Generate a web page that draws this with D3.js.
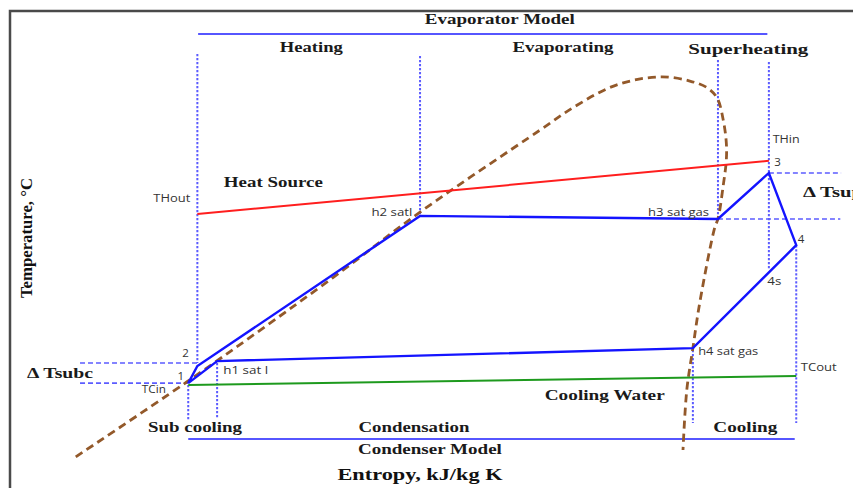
<!DOCTYPE html>
<html>
<head>
<meta charset="utf-8">
<script src="https://cdn.jsdelivr.net/npm/d3@7"></script>
<style>
  html, body { margin: 0; padding: 0; background: #fff; }
  svg { display: block; }
</style>
</head>
<body>
<div id="chart"></div>
<script>
// ---------------- DATA (entropy s, temperature T in arbitrary chart units) ----------------
// Refrigerant cycle: 1 -> 2 -> h2 sat l -> h3 sat gas -> 3 -> 4 -> h4 sat gas -> h1 sat l -> 1
const cycleNames = ["1", "2", "h2", "h3", "3", "4", "h4", "h1"];
const cycleS     = [14.9, 16.1, 45.4, 84.6, 91.3, 94.9, 81.3, 18.7];
const cycleT     = [17.6, 22.1, 61.6, 60.8, 72.9, 53.9, 26.8, 23.4];

// Heat source (red) and cooling water (green) lines
const heatS = [16.1, 91.3];
const heatT = [62.1, 76.1];
const coolS = [14.9, 94.9];
const coolT = [17.1, 19.5];

// Saturation dome (brown dashed)
const domeS = [0.1, 14.7, 33.9, 45.4, 61.2, 66.1, 71.3, 77.0, 80.9, 83.2, 84.5, 85.3, 85.7, 85.7, 85.3, 84.6, 84.2, 82.2, 81.3, 80.5, 80.0];
const domeT = [-1.8, 17.9, 45.3, 62.6, 84.2, 90.8, 96.1, 98.2, 97.1, 95.3, 92.6, 86.8, 80.8, 76.3, 69.7, 60.8, 58.7, 38.7, 26.8, 15.8, 0.0];

// Vertical dotted guide lines: s, top T, bottom T
const vGuideS   = [16.1, 14.9, 18.7, 45.4, 84.6, 91.3, 81.3, 94.9];
const vGuideTop = [104.2, 17.1, 22.9, 103.7, 102.6, 102.1, 26.3, 53.9];
const vGuideBot = [22.9, 7.9, 8.4, 61.8, 60.8, 47.4, 7.1, 7.1];

// Horizontal dashed guide lines: T, start s, end s
const hGuideT  = [72.9, 60.8, 22.9, 17.6];
const hGuideS0 = [91.3, 84.6, 0.66, 0.66];
const hGuideS1 = [100.8, 100.7, 16.1, 14.9];

// Model brackets: label, s range, T level
const bracketNames = ["Evaporator Model", "Condenser Model"];
const bracketS0 = [16.2, 14.9];
const bracketS1 = [91.1, 94.7];
const bracketT  = [109.5, 2.9];

// Annotation texts
const headTexts  = ["Evaporator Model", "Heating", "Evaporating", "Superheating", "Heat Source", "Cooling Water",
                    "Sub cooling", "Condensation", "Cooling", "Condenser Model", "Δ Tsup", "Δ Tsubc"];
const headS      = [55.9, 31.1, 64.2, 88.6, 26.1, 69.7, 15.8, 44.6, 88.2, 46.7, 95.8, -6.3];
const headT      = [112.1, 104.7, 104.7, 104.2, 69.2, 13.2, 4.7, 4.7, 4.7, -1.1, 66.6, 19.0];
const headWidths = [150, 63, 101, 120, 99, 120, 94, 111, 64, 144, 60, 66];

const pointTexts = ["THout", "h2 satl", "h3 sat gas", "THin", "3", "4", "4s", "h4 sat gas", "TCout", "2", "1", "TCin", "h1 sat l"];
const pointS     = [10.3, 39.0, 75.4, 91.8, 92.0, 95.1, 91.1, 82.0, 95.5, 14.1, 13.5, 8.8, 19.5];
const pointT     = [65.3, 61.6, 61.6, 80.8, 74.7, 54.5, 43.4, 25.0, 20.8, 24.5, 18.4, 15.0, 19.9];
const pointWidths = [37, 41, 61, 27, 0, 0, 14, 60, 36, 0, 0, 24, 45];

// ---------------- CHART ----------------
const W = 853, H = 488;
const x = d3.scaleLinear().domain([0, 100]).range([75, 835]);
const y = d3.scaleLinear().domain([0, 100]).range([450, 70]);

const svg = d3.select("#chart").append("svg").attr("width", W).attr("height", H);
svg.append("rect").attr("width", W).attr("height", H).attr("fill", "#fff");

// frame (extends beyond the visible area on the right and bottom)
svg.append("rect").attr("x", 10).attr("y", 11).attr("width", 900).attr("height", 600)
  .attr("fill", "none").attr("stroke", "#4a4a4a").attr("stroke-width", 2.5);

const guideColor = "#5c5cff";

// vertical dotted guides
svg.append("g").selectAll("line").data(vGuideS).join("line")
  .attr("x1", d => x(d)).attr("x2", d => x(d))
  .attr("y1", (d, i) => y(vGuideTop[i])).attr("y2", (d, i) => y(vGuideBot[i]))
  .attr("stroke", guideColor).attr("stroke-width", 2).attr("stroke-dasharray", "2.2,1.8");

// horizontal dashed guides
svg.append("g").selectAll("line").data(hGuideT).join("line")
  .attr("x1", (d, i) => x(hGuideS0[i])).attr("x2", (d, i) => x(hGuideS1[i]))
  .attr("y1", d => y(d)).attr("y2", d => y(d))
  .attr("stroke", guideColor).attr("stroke-width", 1.6).attr("stroke-dasharray", "5,3");

// model bracket lines
svg.append("g").selectAll("line").data(bracketT).join("line")
  .attr("x1", (d, i) => x(bracketS0[i])).attr("x2", (d, i) => x(bracketS1[i]))
  .attr("y1", d => y(d)).attr("y2", d => y(d))
  .attr("stroke", "#5656ff").attr("stroke-width", 2);

const line = d3.line().x(d => x(d[0])).y(d => y(d[1]));

// saturation dome
const dome = domeS.map((s, i) => [s, domeT[i]]);
svg.append("path").datum(dome)
  .attr("d", d3.line().x(d => x(d[0])).y(d => y(d[1])).curve(d3.curveCatmullRom.alpha(0.5)))
  .attr("fill", "none").attr("stroke", "#93592a").attr("stroke-width", 2.8)
  .attr("stroke-dasharray", "8,5");

// heat source
svg.append("path").datum(heatS.map((s, i) => [s, heatT[i]]))
  .attr("d", line)
  .attr("fill", "none").attr("stroke", "#ff1e1e").attr("stroke-width", 2);

// cooling water
svg.append("path").datum(coolS.map((s, i) => [s, coolT[i]]))
  .attr("d", line)
  .attr("fill", "none").attr("stroke", "#1e9a1e").attr("stroke-width", 2);

// refrigerant cycle (closed)
const cyc = cycleS.map((s, i) => [s, cycleT[i]]);
svg.append("path").datum(cyc)
  .attr("d", d => line(d) + "Z")
  .attr("fill", "none").attr("stroke", "#1414ff").attr("stroke-width", 2.4)
  .attr("stroke-linejoin", "miter");

// bold serif headings
svg.append("g").selectAll("text").data(headTexts).join("text")
  .attr("x", (d, i) => x(headS[i])).attr("y", (d, i) => y(headT[i]))
  .attr("text-anchor", (d, i) => (d === "Δ Tsup" || d === "Δ Tsubc") ? "start" : "middle")
  .attr("font-family", "'Liberation Serif', 'Times New Roman', serif")
  .attr("font-weight", "bold").attr("font-size", 15).attr("fill", "#1a1a1a")
  .attr("textLength", (d, i) => headWidths[i]).attr("lengthAdjust", "spacingAndGlyphs")
  .text(d => d);

// point labels (small sans)
svg.append("g").selectAll("text").data(pointTexts).join("text")
  .attr("x", (d, i) => x(pointS[i])).attr("y", (d, i) => y(pointT[i]))
  .attr("font-family", "'Open Sans', 'Noto Sans', sans-serif")
  .attr("font-size", 11.5).attr("fill", "#333")
  .each(function (d, i) {
    if (pointWidths[i] > 0) d3.select(this).attr("textLength", pointWidths[i]).attr("lengthAdjust", "spacingAndGlyphs");
  })
  .text(d => d);

// axis titles
svg.append("text")
  .attr("x", (x(0) + x(100)) / 2 - 35).attr("y", 480)
  .attr("text-anchor", "middle")
  .attr("font-family", "'Liberation Serif', 'Times New Roman', serif")
  .attr("font-weight", "bold").attr("font-size", 17).attr("fill", "#111")
  .attr("textLength", 165).attr("lengthAdjust", "spacingAndGlyphs")
  .text("Entropy, kJ/kg K");

svg.append("text")
  .attr("transform", "translate(32,238) rotate(-90)")
  .attr("text-anchor", "middle")
  .attr("font-family", "'Liberation Serif', 'Times New Roman', serif")
  .attr("font-weight", "bold").attr("font-size", 16.5).attr("fill", "#111")
  .attr("textLength", 120).attr("lengthAdjust", "spacingAndGlyphs")
  .text("Temperature, °C");
</script>
</body>
</html>
